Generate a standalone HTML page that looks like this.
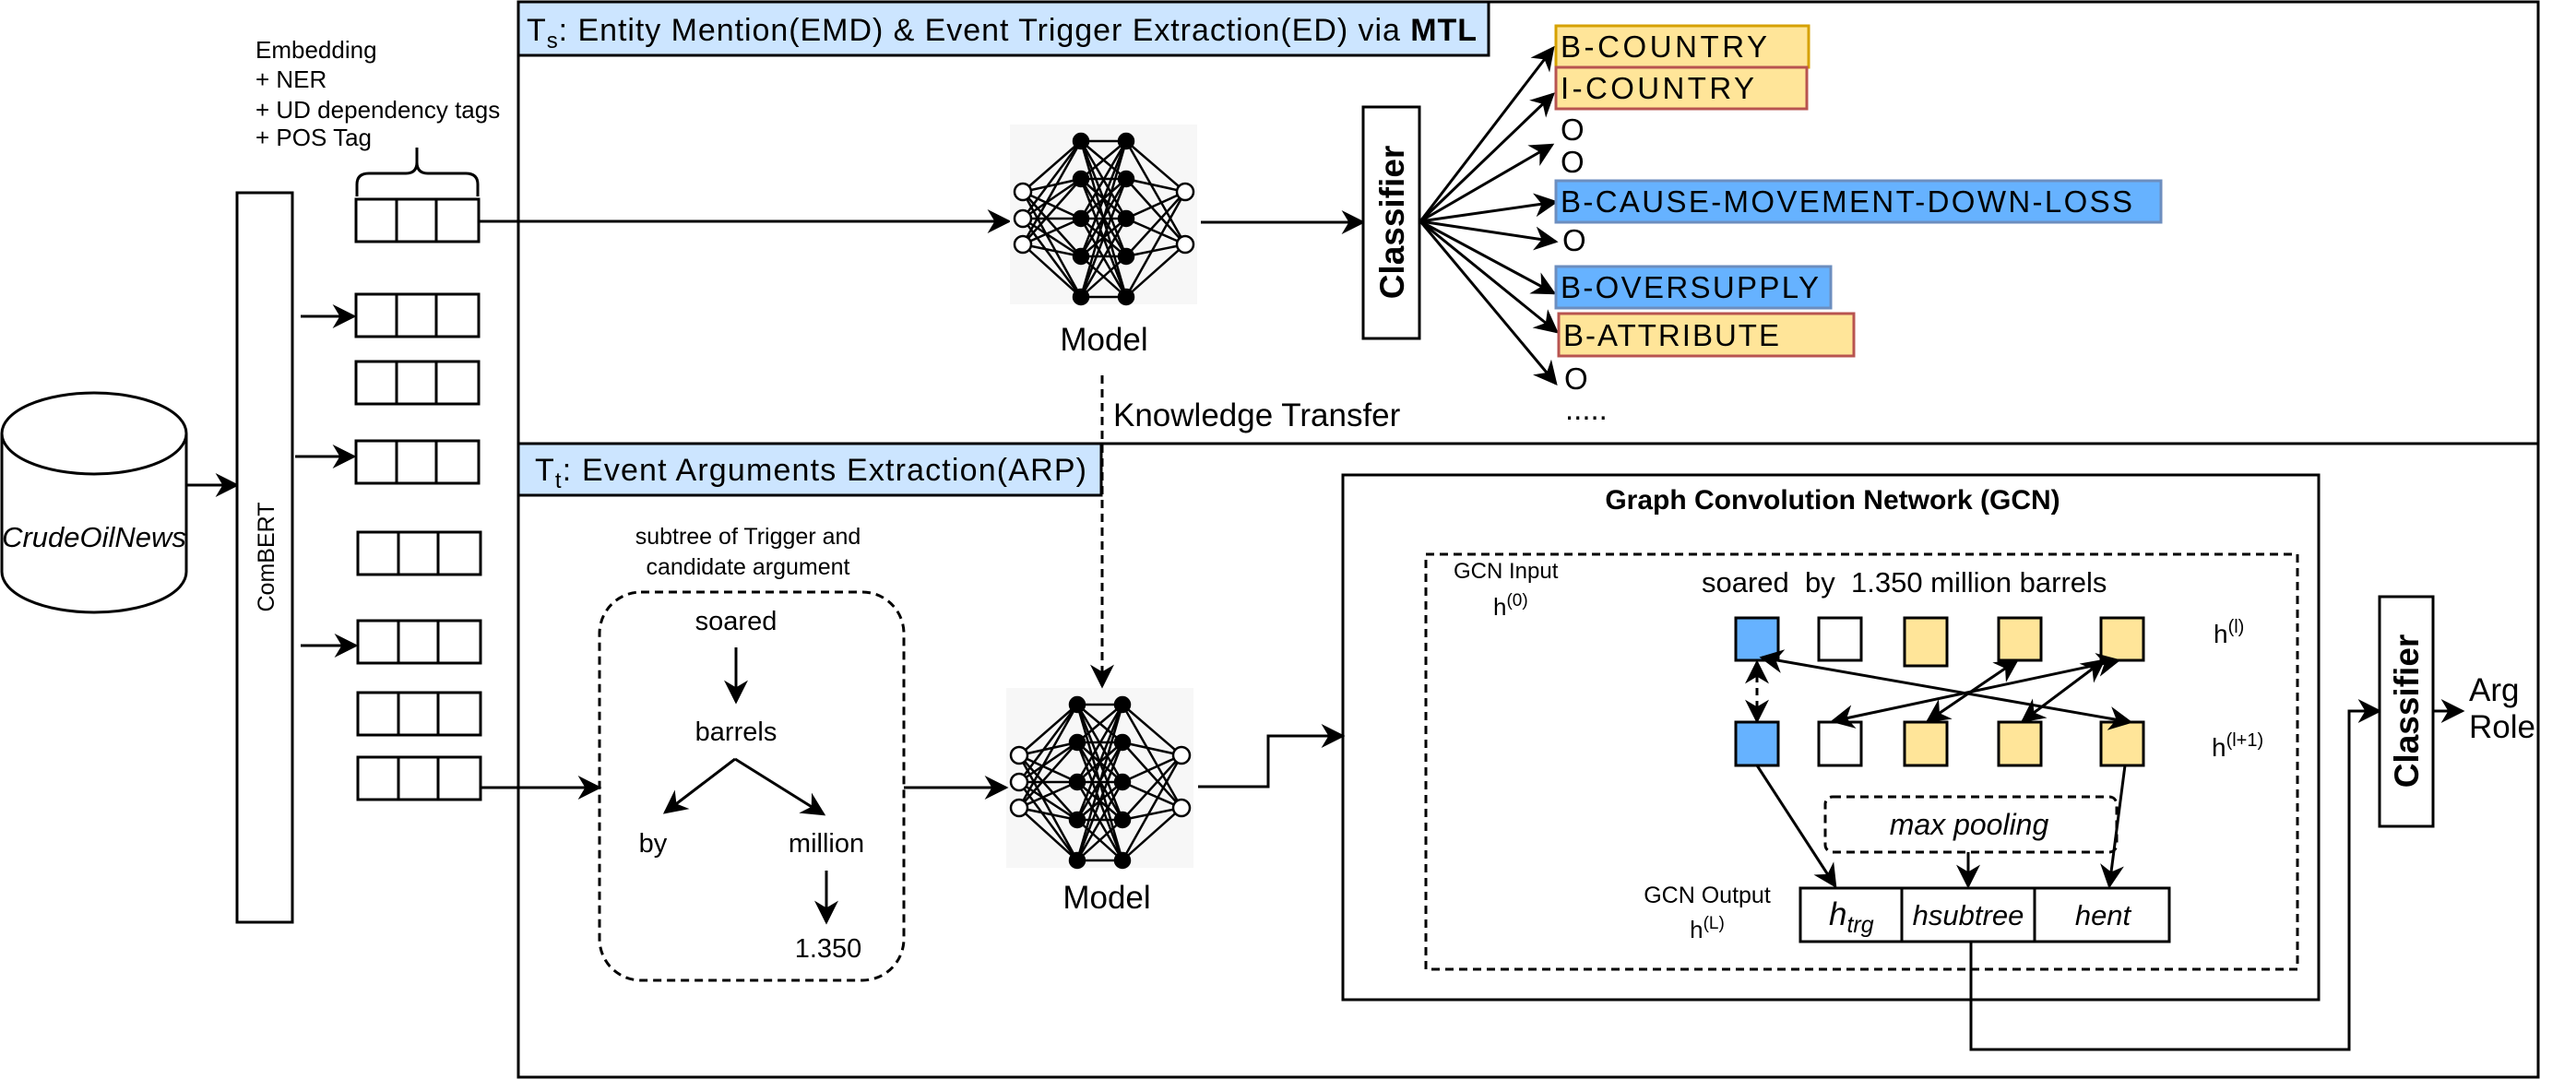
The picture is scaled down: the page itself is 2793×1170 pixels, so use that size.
<!DOCTYPE html>
<html><head><meta charset="utf-8"><style>
html,body{margin:0;padding:0;background:#fff;}
svg{display:block;font-family:"Liberation Sans",Arial,sans-serif;}
</style></head><body>
<svg id="s" width="2793" height="1170" viewBox="0 0 2793 1170" xmlns="http://www.w3.org/2000/svg" font-family="Liberation Sans, Arial, sans-serif">
<defs>
<marker id="b" viewBox="0 0 10 10" refX="9" refY="5" markerWidth="26" markerHeight="26" markerUnits="userSpaceOnUse" orient="auto-start-reverse"><path d="M0,0 L10,5 L0,10 L3,5 z" fill="#000"/></marker>
<g id="net">
<rect x="0" y="0" width="203" height="195" fill="#f7f7f7"/>
<g id="netlines" stroke="#000" stroke-width="2.5"></g>
<g id="netnodes"></g>
</g>
</defs>
<rect x="562" y="2" width="2190" height="1166" fill="none" stroke="#000" stroke-width="3"/>
<line x1="562" y1="481" x2="2752" y2="481" stroke="#000" stroke-width="3"/>
<rect x="562" y="2" width="1052" height="58" fill="#cce5ff" stroke="#000" stroke-width="3"/>
<text x="571" y="44" font-size="34" textLength="1030">T<tspan font-size="24" dy="8">s</tspan><tspan dy="-8">: Entity Mention(EMD) &amp; Event Trigger Extraction(ED) via </tspan><tspan font-weight="bold">MTL</tspan></text>
<rect x="562" y="481" width="632" height="56" fill="#cce5ff" stroke="#000" stroke-width="3"/>
<text x="580" y="521" font-size="34" textLength="598">T<tspan font-size="24" dy="8">t</tspan><tspan dy="-8">: Event Arguments Extraction(ARP)</tspan></text>

<path d="M2,470 L2,620 A100,44 0 0 0 202,620 L202,470" fill="#fff" stroke="#000" stroke-width="3"/>
<ellipse cx="102" cy="470" rx="100" ry="44" fill="#fff" stroke="#000" stroke-width="3"/>
<text x="102" y="593" font-size="31" font-style="italic" text-anchor="middle">CrudeOilNews</text>
<line x1="203" y1="526" x2="257" y2="526" stroke="#000" stroke-width="3" marker-end="url(#b)"/>

<rect x="257" y="209" width="60" height="791" fill="#fff" stroke="#000" stroke-width="3"/>
<text transform="translate(297,604) rotate(-90)" font-size="25" text-anchor="middle">ComBERT</text>

<g font-size="26">
<text x="277" y="63">Embedding</text>
<text x="277" y="95">+ NER</text>
<text x="277" y="128">+ UD dependency tags</text>
<text x="277" y="158">+ POS Tag</text>
</g>
<path d="M387,213 L387,200 Q387,188 400,188 L440,188 Q452,188 452,176 L452,160 M452,176 Q452,188 464,188 L505,188 Q518,188 518,200 L518,213" fill="none" stroke="#000" stroke-width="3"/>

<g fill="#fff" stroke="#000" stroke-width="3" id="toks"></g>
<g stroke="#000" stroke-width="3">
<line x1="326" y1="343" x2="384" y2="343" marker-end="url(#b)"/>
<line x1="320" y1="495" x2="384" y2="495" marker-end="url(#b)"/>
<line x1="326" y1="700" x2="386" y2="700" marker-end="url(#b)"/>
<line x1="518" y1="240" x2="1094" y2="240" marker-end="url(#b)"/>
<line x1="521" y1="854" x2="650" y2="854" marker-end="url(#b)"/>
</g>

<use href="#net" x="1095" y="135"/>
<use href="#net" x="1091" y="746"/>
<text x="1197" y="380" font-size="35" text-anchor="middle">Model</text>
<text x="1200" y="985" font-size="35" text-anchor="middle">Model</text>
<line x1="1195" y1="407" x2="1195" y2="744" stroke="#000" stroke-width="3" stroke-dasharray="9,6" marker-end="url(#b)"/>
<text x="1207" y="462" font-size="35">Knowledge Transfer</text>

<line x1="1302" y1="241" x2="1478" y2="241" stroke="#000" stroke-width="3" marker-end="url(#b)"/>
<rect x="1478" y="116" width="61" height="251" fill="#fff" stroke="#000" stroke-width="3"/>
<text transform="translate(1522,241) rotate(-90)" font-size="37" font-weight="bold" text-anchor="middle">Classifier</text>
<g stroke="#000" stroke-width="3" fill="none">
<line x1="1540" y1="240" x2="1684" y2="52" marker-end="url(#b)"/>
<line x1="1540" y1="240" x2="1684" y2="102" marker-end="url(#b)"/>
<line x1="1540" y1="240" x2="1683" y2="157" marker-end="url(#b)"/>
<line x1="1540" y1="240" x2="1687" y2="219" marker-end="url(#b)"/>
<line x1="1540" y1="240" x2="1687" y2="262" marker-end="url(#b)"/>
<line x1="1540" y1="240" x2="1685" y2="318" marker-end="url(#b)"/>
<line x1="1540" y1="240" x2="1688" y2="360" marker-end="url(#b)"/>
<line x1="1540" y1="240" x2="1687" y2="416" marker-end="url(#b)"/>
</g>
<rect x="1687" y="28" width="274" height="45" fill="#ffe599" stroke="#d6a100" stroke-width="3"/>
<rect x="1687" y="73" width="272" height="45" fill="#ffe599" stroke="#b85450" stroke-width="3"/>
<rect x="1687" y="196" width="656" height="45" fill="#66b2ff" stroke="#6c8ebf" stroke-width="3"/>
<rect x="1687" y="289" width="298" height="45" fill="#66b2ff" stroke="#6c8ebf" stroke-width="3"/>
<rect x="1690" y="340" width="320" height="46" fill="#ffe599" stroke="#b85450" stroke-width="3"/>
<g font-size="33">
<text x="1692" y="62" textLength="224">B-COUNTRY</text>
<text x="1692" y="107" textLength="210">I-COUNTRY</text>
<text x="1692" y="152">O</text>
<text x="1692" y="187">O</text>
<text x="1692" y="230" textLength="620">B-CAUSE-MOVEMENT-DOWN-LOSS</text>
<text x="1694" y="272">O</text>
<text x="1692" y="323" textLength="280">B-OVERSUPPLY</text>
<text x="1695" y="375" textLength="234">B-ATTRIBUTE</text>
<text x="1696" y="422">O</text>
<text x="1697" y="455">.....</text>
</g>

<text x="811" y="590" font-size="25" text-anchor="middle">subtree of Trigger and</text>
<text x="811" y="623" font-size="25" text-anchor="middle">candidate argument</text>
<rect x="650" y="642" width="330" height="421" rx="45" fill="none" stroke="#000" stroke-width="3" stroke-dasharray="9,6"/>
<g font-size="29" text-anchor="middle">
<text x="798" y="683">soared</text>
<text x="798" y="803">barrels</text>
<text x="708" y="924">by</text>
<text x="896" y="924">million</text>
<text x="898" y="1038">1.350</text>
</g>
<g stroke="#000" stroke-width="3">
<line x1="798" y1="702" x2="798" y2="761" marker-end="url(#b)"/>
<line x1="797" y1="823" x2="721" y2="881" marker-end="url(#b)"/>
<line x1="797" y1="823" x2="893" y2="883" marker-end="url(#b)"/>
<line x1="896" y1="944" x2="896" y2="1000" marker-end="url(#b)"/>
<line x1="980" y1="854" x2="1091" y2="854" marker-end="url(#b)"/>
<polyline points="1299,853 1375,853 1375,798 1456,798" fill="none" marker-end="url(#b)"/>
</g>

<rect x="1456" y="515" width="1058" height="569" fill="none" stroke="#000" stroke-width="3"/>
<text x="1987" y="552" font-size="30" font-weight="bold" text-anchor="middle">Graph Convolution Network (GCN)</text>
<rect x="1546" y="601" width="945" height="450" fill="none" stroke="#000" stroke-width="3" stroke-dasharray="9,6"/>
<text x="1576" y="627" font-size="24">GCN Input</text>
<text x="1619" y="667" font-size="26">h<tspan font-size="19" dy="-10">(0)</tspan></text>
<text x="1845" y="642" font-size="31" xml:space="preserve">soared  by  1.350 million barrels</text>
<text x="2400" y="697" font-size="28">h<tspan font-size="20" dy="-11">(l)</tspan></text>
<text x="2398" y="820" font-size="28">h<tspan font-size="20" dy="-11">(l+1)</tspan></text>
<g stroke="#000" stroke-width="3">
<rect x="1882" y="670" width="46" height="46" fill="#66b2ff"/>
<rect x="1972" y="670" width="46" height="46" fill="#fff"/>
<rect x="2065" y="670" width="46" height="52" fill="#ffe599"/>
<rect x="2167" y="670" width="46" height="46" fill="#ffe599"/>
<rect x="2278" y="670" width="46" height="46" fill="#ffe599"/>
<rect x="1882" y="783" width="46" height="47" fill="#66b2ff"/>
<rect x="1972" y="783" width="46" height="47" fill="#fff"/>
<rect x="2065" y="783" width="46" height="47" fill="#ffe599"/>
<rect x="2167" y="783" width="46" height="47" fill="#ffe599"/>
<rect x="2278" y="783" width="46" height="47" fill="#ffe599"/>
<line x1="1910" y1="713" x2="2310" y2="783" marker-start="url(#b)" marker-end="url(#b)"/>
<line x1="2090" y1="782" x2="2187" y2="716" marker-start="url(#b)" marker-end="url(#b)"/>
<line x1="1987" y1="782" x2="2297" y2="716" marker-start="url(#b)" marker-end="url(#b)"/>
<line x1="2193" y1="782" x2="2281" y2="716" marker-start="url(#b)" marker-end="url(#b)"/>
<line x1="1905" y1="718" x2="1905" y2="782" stroke-dasharray="8,6" marker-start="url(#b)" marker-end="url(#b)"/>
<line x1="1905" y1="830" x2="1990" y2="961" marker-end="url(#b)"/>
<line x1="2304" y1="830" x2="2287" y2="961" marker-end="url(#b)"/>
<line x1="2134" y1="924" x2="2134" y2="961" marker-end="url(#b)"/>
</g>
<rect x="1979" y="864" width="316" height="60" rx="8" fill="none" stroke="#000" stroke-width="3" stroke-dasharray="9,6"/>
<text x="2135" y="905" font-size="32" font-style="italic" text-anchor="middle">max pooling</text>
<text x="1851" y="979" font-size="25" text-anchor="middle">GCN Output</text>
<text x="1851" y="1017" font-size="26" text-anchor="middle">h<tspan font-size="19" dy="-10">(L)</tspan></text>
<rect x="1952" y="963" width="400" height="58" fill="#fff" stroke="#000" stroke-width="3"/>
<line x1="2062" y1="963" x2="2062" y2="1021" stroke="#000" stroke-width="3"/>
<line x1="2206" y1="963" x2="2206" y2="1021" stroke="#000" stroke-width="3"/>
<text x="1983" y="1003" font-size="35" font-style="italic">h<tspan font-size="25" dy="8">trg</tspan></text>
<text x="2134" y="1003" font-size="31" font-style="italic" text-anchor="middle">hsubtree</text>
<text x="2280" y="1003" font-size="31" font-style="italic" text-anchor="middle">hent</text>
<polyline points="2137,1021 2137,1138 2547,1138 2547,771 2580,771" fill="none" stroke="#000" stroke-width="3" marker-end="url(#b)"/>
<rect x="2580" y="647" width="58" height="249" fill="#fff" stroke="#000" stroke-width="3"/>
<text transform="translate(2622,771) rotate(-90)" font-size="37" font-weight="bold" text-anchor="middle">Classifier</text>
<line x1="2638" y1="771" x2="2670" y2="771" stroke="#000" stroke-width="3" marker-end="url(#b)"/>
<text x="2677" y="760" font-size="35">Arg</text>
<text x="2677" y="800" font-size="35">Role</text>
</svg>
<script>
(function(){
var NS="http://www.w3.org/2000/svg";
var L=document.getElementById("netlines"),N=document.getElementById("netnodes");
var inp=[[14,73],[14,102],[14,130]],h1=[],h2=[],out=[[190,73],[190,130]];
[18,59,102,143,187].forEach(function(y){h1.push([77,y]);h2.push([126,y]);});
function ln(a,b){var l=document.createElementNS(NS,"line");l.setAttribute("x1",a[0]);l.setAttribute("y1",a[1]);l.setAttribute("x2",b[0]);l.setAttribute("y2",b[1]);L.appendChild(l);}
inp.forEach(function(a){h1.forEach(function(b){ln(a,b);});});
h1.forEach(function(a){h2.forEach(function(b){ln(a,b);});});
h2.forEach(function(a){out.forEach(function(b){ln(a,b);});});
function c(p,r,f){var e=document.createElementNS(NS,"circle");e.setAttribute("cx",p[0]);e.setAttribute("cy",p[1]);e.setAttribute("r",r);e.setAttribute("fill",f);e.setAttribute("stroke","#000");e.setAttribute("stroke-width","2.5");N.appendChild(e);}
inp.concat(out).forEach(function(p){c(p,9,"#fff");});
h1.concat(h2).forEach(function(p){c(p,8,"#000");});
var T=document.getElementById("toks");
[[386,216],[386,319],[386,392],[386,478],[388,577],[388,673],[388,751],[388,821]].forEach(function(p){
for(var i=0;i<3;i++){var r=document.createElementNS(NS,"rect");var w=[44,43,46][i],x=p[0]+[0,44,87][i];r.setAttribute("x",x);r.setAttribute("y",p[1]);r.setAttribute("width",w);r.setAttribute("height",46);T.appendChild(r);}
});
})();
</script>
</body></html>
